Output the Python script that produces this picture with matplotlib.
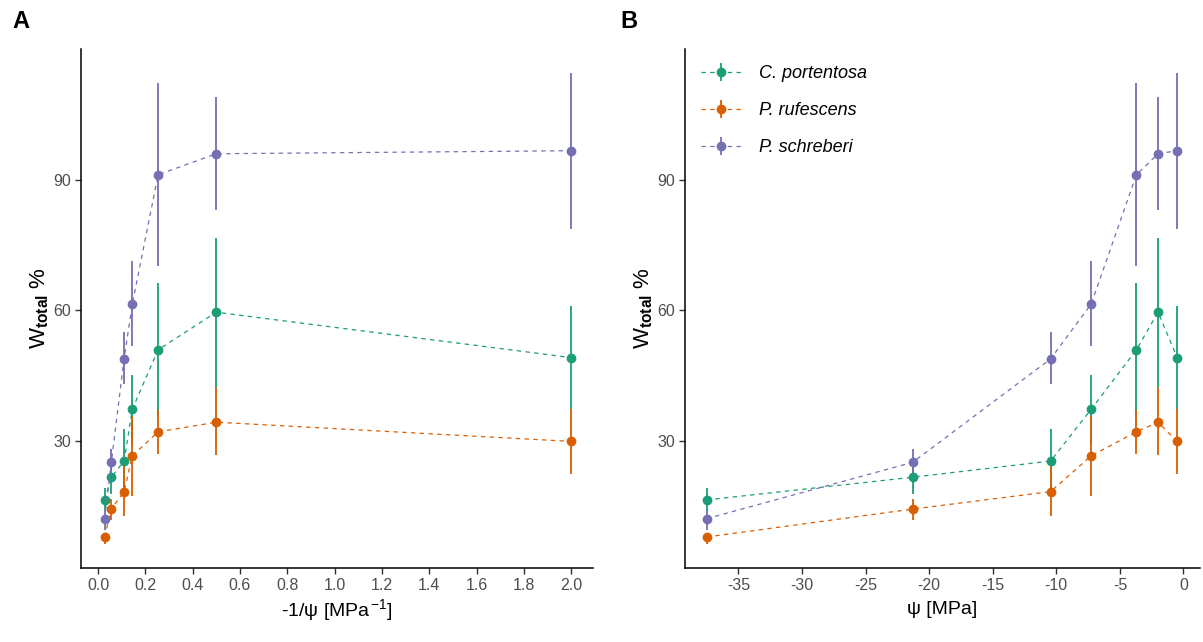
import matplotlib
matplotlib.use("Agg")
import matplotlib.pyplot as plt
import numpy as np

plt.rcParams['font.family'] = ['Liberation Sans', 'DejaVu Sans']
plt.rcParams['mathtext.fontset'] = 'custom'
plt.rcParams['mathtext.rm'] = 'Liberation Sans'
plt.rcParams['mathtext.it'] = 'Liberation Sans:italic'
plt.rcParams['mathtext.bf'] = 'Liberation Sans:bold'
plt.rcParams['axes.unicode_minus'] = False

# x values
psi = [-37.5, -21.3, -10.45, -7.25, -3.7, -2.0, -0.5]          # panel B
inv_psi = [0.028, 0.056, 0.11, 0.145, 0.254, 0.5, 2.0]          # panel A

species = ["C. portentosa", "P. rufescens", "P. schreberi"]
colors = ["#1B9E77", "#D95F02", "#7570B3"]

# mean and error limits per species
w_port = [16.6, 21.8, 25.5, 37.4, 51.0, 59.6, 49.2]
w_port_hi = [19.3, 24.3, 32.8, 45.3, 66.4, 76.7, 61.1]
w_port_lo = [14.0, 18.0, 18.2, 29.5, 35.6, 42.5, 37.3]

w_rufe = [8.1, 14.5, 18.5, 26.7, 32.2, 34.4, 30.0]
w_rufe_hi = [9.0, 16.8, 24.3, 35.8, 37.3, 42.5, 37.5]
w_rufe_lo = [6.5, 12.1, 12.8, 17.6, 27.2, 26.8, 22.5]

w_schr = [12.3, 25.2, 48.9, 61.5, 91.1, 95.9, 96.6]
w_schr_hi = [14.3, 28.3, 55.0, 71.4, 112.2, 108.9, 114.5]
w_schr_lo = [9.8, 22.1, 43.1, 51.8, 70.2, 83.1, 78.7]

series = [(w_port, w_port_lo, w_port_hi),
          (w_rufe, w_rufe_lo, w_rufe_hi),
          (w_schr, w_schr_lo, w_schr_hi)]

W, H = 1203, 642
fig = plt.figure(figsize=(W / 100, H / 100), dpi=100)
axA = fig.add_axes([81 / W, (H - 568) / H, (593 - 81) / W, (568 - 49) / H])
axB = fig.add_axes([685 / W, (H - 568) / H, (1200 - 685) / W, (568 - 49) / H])


def draw(ax, x):
    handles = []
    for (y, lo, hi), c, name in zip(series, colors, species):
        y = np.array(y)
        err = [y - np.array(lo), np.array(hi) - y]
        h = ax.errorbar(x, y, yerr=err, color=c, ecolor=c, elinewidth=1.3,
                        capsize=0, marker='o', markersize=6, linestyle=(0, (3.5, 3.5)),
                        linewidth=0.9, label=name)
        handles.append(h)
    ax.set_ylim(1.0, 119.9)
    ax.set_yticks([30, 60, 90])
    for s in ['top', 'right']:
        ax.spines[s].set_visible(False)
    for s in ['left', 'bottom']:
        ax.spines[s].set_linewidth(1.1)
        ax.spines[s].set_color('black')
    ax.tick_params(length=4, width=1.0, color='#333333', labelcolor='#4D4D4D',
                   labelsize=11.5, pad=3)
    ax.set_ylabel(r'W$_{\mathbf{total}}$ %', fontsize=16, labelpad=2)
    return handles


draw(axA, inv_psi)
axA.set_xlim(-0.072, 2.092)
axA.set_xticks(np.arange(0, 2.01, 0.2))
axA.set_xticklabels([f"{v:.1f}" for v in np.arange(0, 2.01, 0.2)])
axA.set_xlabel(r'-1/ψ [MPa$^{\,\mathregular{-1}}$]', fontsize=14, labelpad=3)

hB = draw(axB, psi)
axB.set_xlim(-39.2, 1.3)
axB.set_xticks([-35, -30, -25, -20, -15, -10, -5, 0])
axB.set_xlabel('ψ [MPa]', fontsize=14, labelpad=6)

leg = axB.legend(handles=hB, labels=species, loc='upper left',
                 bbox_to_anchor=(0.0, 1.0), frameon=False, fontsize=13,
                 handlelength=2.2, labelspacing=1.1, handletextpad=1.0,
                 borderaxespad=0.5)
for t in leg.get_texts():
    t.set_style('italic')

fig.text(12 / W, 1 - 22 / H, 'A', fontsize=17, fontweight='bold', va='center', ha='left')
fig.text(620 / W, 1 - 22 / H, 'B', fontsize=17, fontweight='bold', va='center', ha='left')

fig.savefig('out.png', dpi=100)
